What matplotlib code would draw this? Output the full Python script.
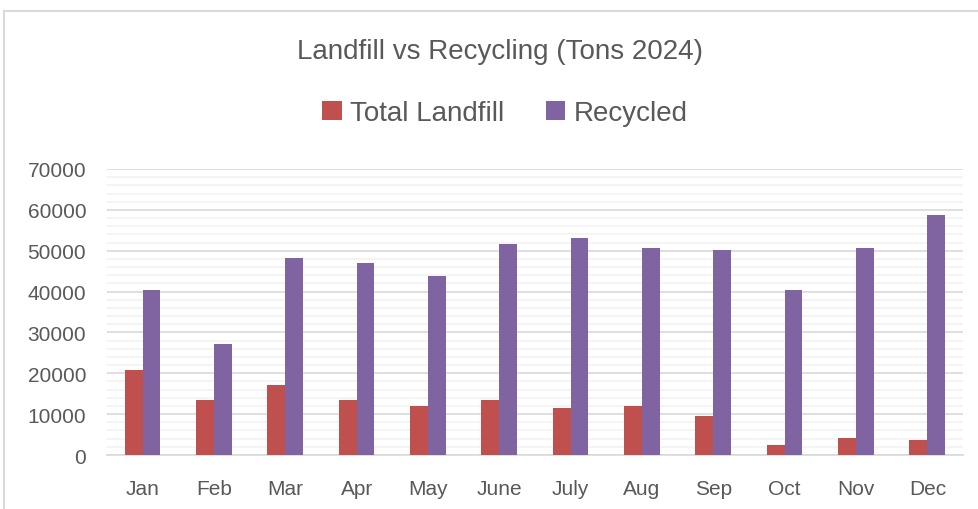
import numpy as np
import matplotlib
matplotlib.use('Agg')
import matplotlib.pyplot as plt
from matplotlib.ticker import MultipleLocator
from matplotlib.patches import Rectangle

# Data
months = ['Jan', 'Feb', 'Mar', 'Apr', 'May', 'June', 'July', 'Aug', 'Sep', 'Oct', 'Nov', 'Dec']
landfill = [20900, 13550, 17250, 13550, 12100, 13550, 11450, 12000, 9600, 2550, 4200, 3600]
recycled = [40300, 27100, 48200, 47100, 43800, 51700, 53200, 50700, 50250, 40400, 50550, 58750]

plt.rcParams['font.family'] = ['Liberation Sans Narrow', 'Liberation Sans', 'DejaVu Sans']

fig = plt.figure(figsize=(9.79, 5.10), dpi=100)
ax = fig.add_axes([107 / 979, 1 - 456 / 510, (963 - 107) / 979, (456 - 170) / 510])

# chart area border
fig.patches.append(Rectangle((4 / 979, -0.1), 1.2, 1 - 12 / 510 + 0.1, transform=fig.transFigure,
                             fill=False, edgecolor='#d9d9d9', linewidth=1.5))

x = np.arange(len(months))
w = 0.25
ax.bar(x - w / 2, landfill, w, color='#C0504D', label='Total Landfill', zorder=3)
ax.bar(x + w / 2, recycled, w, color='#8064A2', label='Recycled', zorder=3)

ax.set_xlim(-0.5, len(months) - 0.5)
ax.set_ylim(0, 70000)
ax.yaxis.set_major_locator(MultipleLocator(10000))
ax.yaxis.set_minor_locator(MultipleLocator(2000))
ax.grid(axis='y', which='major', color='#d9d9d9', linewidth=1.2, zorder=0)
ax.grid(axis='y', which='minor', color='#f2f2f2', linewidth=1.2, zorder=0)
for s in ['top', 'right', 'left']:
    ax.spines[s].set_visible(False)
ax.spines['bottom'].set_color('#d9d9d9')
ax.spines['bottom'].set_linewidth(1.2)

ax.set_xticks(x)
ax.set_xticklabels(months)
ax.tick_params(axis='both', which='both', length=0, labelsize=15, colors='#595959')
ax.tick_params(axis='x', pad=17)
ax.tick_params(axis='y', pad=15)

fig.text(500 / 979, 1 - 52 / 510, 'Landfill vs Recycling (Tons 2024)', ha='center', va='center',
         fontsize=20, color='#595959')
fig.legend(loc='center', bbox_to_anchor=(505 / 979, 1 - 114 / 510), ncol=2, frameon=False,
           fontsize=20, labelcolor='#595959', handlelength=0.7, handleheight=0.7,
           handletextpad=0.3, columnspacing=1.5)

fig.savefig('out.png', dpi=100)
